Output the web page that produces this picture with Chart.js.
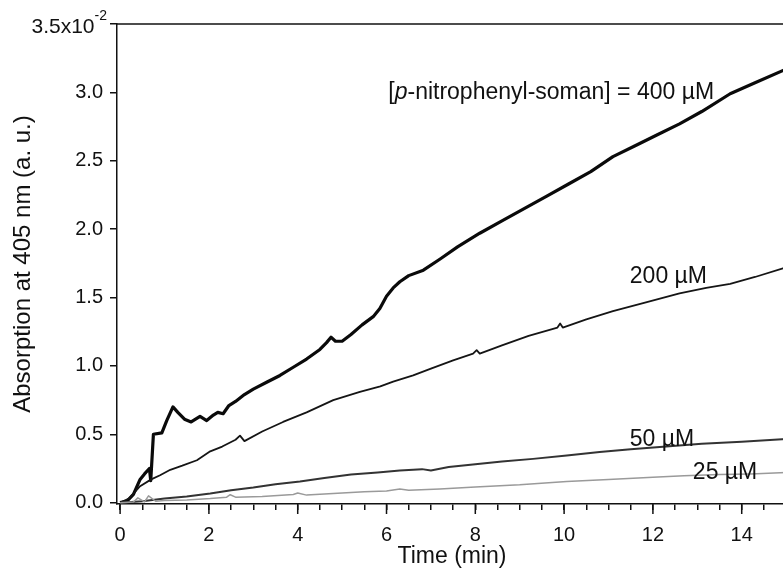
<!DOCTYPE html>
<html lang="en">
<head>
  <meta charset="UTF-8">
  <title>Absorption at 405 nm vs time</title>
  <script src="https://cdn.jsdelivr.net/npm/chart.js"></script>
  <style>
    html, body { margin: 0; padding: 0; overflow: hidden; background: #fff; }
    canvas { display: block; }
  </style>
</head>
<body>

<canvas id="absChart" width="787" height="574"></canvas>

<script>
// values, absorption in units of 1e-2
const t400 = [0, 0.15, 0.3, 0.45, 0.55, 0.66, 0.69, 0.75, 0.94, 1.05, 1.19, 1.3, 1.45, 1.6, 1.8, 1.95, 2.1, 2.2, 2.32, 2.45, 2.6, 2.8, 3.0, 3.3, 3.6, 3.9, 4.2, 4.5, 4.65, 4.75, 4.85, 5.0, 5.2, 5.45, 5.7, 5.85, 6.0, 6.15, 6.3, 6.5, 6.83, 7.2, 7.6, 8.1, 8.6, 9.1, 9.6, 10.1, 10.6, 11.1, 11.6, 12.1, 12.6, 13.1, 13.74, 14.3, 15];
const a400 = [0, 0.01, 0.06, 0.17, 0.21, 0.25, 0.16, 0.50, 0.51, 0.60, 0.70, 0.66, 0.61, 0.59, 0.63, 0.60, 0.64, 0.66, 0.65, 0.71, 0.74, 0.79, 0.83, 0.88, 0.93, 0.99, 1.05, 1.12, 1.17, 1.21, 1.18, 1.18, 1.23, 1.30, 1.36, 1.42, 1.51, 1.57, 1.615, 1.66, 1.70, 1.78, 1.87, 1.97, 2.06, 2.15, 2.24, 2.33, 2.42, 2.53, 2.61, 2.69, 2.77, 2.86, 2.99, 3.07, 3.17];

const t200 = [0, 0.2, 0.45, 0.7, 0.9, 1.13, 1.4, 1.73, 2.03, 2.3, 2.6, 2.7, 2.8, 3.2, 3.67, 4.2, 4.8, 5.4, 5.86, 6.15, 6.6, 7.0, 7.5, 7.95, 8.03, 8.1, 8.6, 9.2, 9.85, 9.91, 9.97, 10.5, 11.1, 11.8, 12.6, 13.2, 13.74, 14.3, 15];
const a200 = [0, 0.03, 0.12, 0.17, 0.20, 0.24, 0.27, 0.31, 0.375, 0.41, 0.46, 0.49, 0.45, 0.52, 0.59, 0.66, 0.75, 0.81, 0.85, 0.885, 0.93, 0.98, 1.04, 1.09, 1.115, 1.09, 1.15, 1.22, 1.28, 1.31, 1.28, 1.34, 1.40, 1.46, 1.53, 1.57, 1.60, 1.65, 1.72];

const t50 = [0, 0.5, 1.0, 1.5, 2.03, 2.5, 3.0, 3.5, 4.05, 4.6, 5.2, 5.8, 6.3, 6.8, 7.0, 7.4, 8.0, 8.6, 9.3, 10.06, 10.8, 11.5, 12.3, 13.1, 14.0, 15];
const a50 = [0, 0.01, 0.03, 0.045, 0.066, 0.09, 0.11, 0.135, 0.155, 0.18, 0.205, 0.22, 0.235, 0.245, 0.235, 0.26, 0.28, 0.30, 0.32, 0.345, 0.37, 0.39, 0.41, 0.43, 0.445, 0.465];

const t25 = [0, 0.3, 0.4, 0.55, 0.64, 0.8, 1.0, 1.5, 2.03, 2.4, 2.48, 2.6, 3.2, 3.9, 4.0, 4.2, 5.0, 5.5, 6.0, 6.3, 6.5, 7.2, 8.0, 9.0, 10.06, 11.0, 12.0, 12.7, 13.5, 14.2, 15];
const a25 = [0, 0.005, 0.035, 0.005, 0.05, 0.01, 0.015, 0.02, 0.03, 0.04, 0.058, 0.04, 0.045, 0.06, 0.07, 0.055, 0.07, 0.08, 0.085, 0.1, 0.09, 0.1, 0.115, 0.13, 0.155, 0.17, 0.185, 0.197, 0.205, 0.21, 0.22];

const yTicks = [0, 0.5, 1.0, 1.5, 2.0, 2.5, 3.0, 3.5];
const xLabelTicks = [0, 2, 4, 6, 8, 10, 12, 14];

// curve labels, anchored in data units (left end, baseline)
const curveLabels = [
  { pre: '[', it: 'p', post: '-nitrophenyl-soman] = 400 \u00b5M', x: 6.04, y: 2.95 },
  { pre: '200 \u00b5M', it: '', post: '', x: 11.48, y: 1.605 },
  { pre: '50 \u00b5M', it: '', post: '', x: 11.48, y: 0.416 },
  { pre: '25 \u00b5M', it: '', post: '', x: 12.9, y: 0.173 }
];

function pairs(xs, ys) {
  return xs.map((x, i) => ({ x: x, y: ys[i] }));
}

const FONT = '"Liberation Sans", Arial, sans-serif';

const overlay = {
  id: 'overlay',
  afterDraw(chart) {
    const ctx = chart.ctx;
    const area = chart.chartArea;
    const xs = chart.scales.x;
    const ys = chart.scales.y;
    ctx.save();
    ctx.strokeStyle = '#111';
    ctx.lineWidth = 1.5;
    // top frame line
    ctx.beginPath();
    ctx.moveTo(area.left, area.top);
    ctx.lineTo(area.right, area.top);
    ctx.stroke();
    // longer ticks at labelled x values
    xLabelTicks.forEach(v => {
      const px = xs.getPixelForValue(v);
      ctx.beginPath();
      ctx.moveTo(px, area.bottom);
      ctx.lineTo(px, area.bottom + 10);
      ctx.stroke();
    });
    // top y label with exponent
    ctx.fillStyle = '#111';
    ctx.textBaseline = 'middle';
    ctx.textAlign = 'right';
    const yTop = ys.getPixelForValue(3.5);
    ctx.font = '14px ' + FONT;
    const expW = ctx.measureText('-2').width;
    ctx.fillText('-2', 107, yTop - 8);
    ctx.font = '21px ' + FONT;
    ctx.fillText('3.5x10', 107 - expW, yTop + 3);
    // curve labels
    ctx.textAlign = 'left';
    ctx.textBaseline = 'alphabetic';
    curveLabels.forEach(l => {
      let px = xs.getPixelForValue(l.x);
      const py = ys.getPixelForValue(l.y);
      ctx.font = '23px ' + FONT;
      ctx.fillText(l.pre, px, py);
      px += ctx.measureText(l.pre).width;
      if (l.it) {
        ctx.font = 'italic 23px ' + FONT;
        ctx.fillText(l.it, px, py);
        px += ctx.measureText(l.it).width;
      }
      ctx.font = '23px ' + FONT;
      ctx.fillText(l.post, px, py);
    });
    ctx.restore();
  }
};

const ctx = document.getElementById('absChart').getContext('2d');

new Chart(ctx, {
  type: 'scatter',
  data: {
    datasets: [
      { label: '25 uM', data: pairs(t25, a25), borderColor: '#9a9a9a', borderWidth: 1.5 },
      { label: '50 uM', data: pairs(t50, a50), borderColor: '#333', borderWidth: 2 },
      { label: '200 uM', data: pairs(t200, a200), borderColor: '#151515', borderWidth: 1.8 },
      { label: '400 uM', data: pairs(t400, a400), borderColor: '#0a0a0a', borderWidth: 3.2 }
    ].map(d => Object.assign(d, { showLine: true, pointRadius: 0, tension: 0, borderJoinStyle: 'round', fill: false }))
  },
  options: {
    responsive: false,
    animation: false,
    layout: { padding: { top: 24, right: 0, left: 0, bottom: 0 } },
    plugins: { legend: { display: false }, tooltip: { enabled: false } },
    scales: {
      x: {
        type: 'linear',
        min: -0.07,
        max: 15.02,
        afterFit: s => { s.height = 70; s.paddingLeft = 0; s.paddingRight = 0; },
        border: { display: true, color: '#111', width: 1.5 },
        grid: { display: true, drawOnChartArea: false, drawTicks: true, tickLength: 6, color: '#111', lineWidth: 1.5 },
        ticks: {
          stepSize: 0.5,
          includeBounds: false,
          autoSkip: false,
          maxRotation: 0,
          padding: 13,
          color: '#111',
          font: { family: FONT, size: 20 },
          callback: v => xLabelTicks.includes(v) ? String(v) : ''
        },
        title: { display: true, text: 'Time (min)', color: '#111', font: { family: FONT, size: 23 }, padding: { top: 0, bottom: 4 } }
      },
      y: {
        min: -0.01,
        max: 3.5,
        afterFit: s => { s.width = 117; s.paddingTop = 0; s.paddingBottom = 0; },
        border: { display: true, color: '#111', width: 1.5 },
        grid: { display: true, drawOnChartArea: false, drawTicks: true, tickLength: 7, color: '#111', lineWidth: 1.5 },
        afterBuildTicks: s => { s.ticks = yTicks.map(v => ({ value: v })); },
        ticks: {
          padding: 7,
          color: '#111',
          font: { family: FONT, size: 20 },
          callback: v => v === 3.5 ? '' : v.toFixed(1)
        },
        title: { display: true, text: 'Absorption at 405 nm (a. u.)', color: '#111', font: { family: FONT, size: 24 }, padding: { top: 9, bottom: 0 } }
      }
    }
  },
  plugins: [overlay]
});
</script>

</body>
</html>
